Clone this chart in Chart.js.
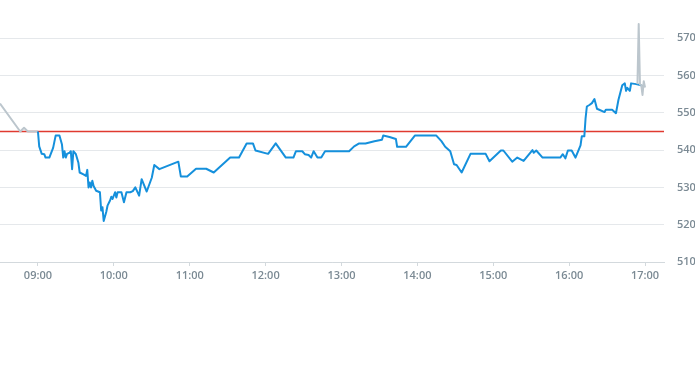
<!DOCTYPE html>
<html lang="en">
<head>
    <meta charset="UTF-8">
    <title>Intraday price</title>
    <script src="https://cdn.jsdelivr.net/npm/chart.js"></script>
    <style>
        body { margin: 0; background: #fff; }
        #wrap { width: 695px; height: 285px; }
    </style>
</head>
<body>
    <div id="wrap"><canvas id="myChart"></canvas></div>
    <script>
        // session prices (time HH:MM, price)
        const sessionTimes = ['09:00','09:01','09:03','09:05','09:06','09:09','09:12','09:14','09:17','09:19','09:20','09:21','09:22','09:23','09:25','09:26','09:27','09:28','09:30','09:32','09:33','09:36','09:38','09:39','09:40','09:41','09:42','09:43','09:44','09:46','09:49','09:50','09:51','09:52','09:54','09:55','09:57','09:58','09:59','10:01','10:02','10:03','10:06','10:08','10:10','10:13','10:15','10:17','10:20','10:22','10:26','10:30','10:32','10:36','10:51','10:53','10:58','11:05','11:13','11:19','11:32','11:39','11:45','11:50','11:52','12:02','12:08','12:16','12:22','12:24','12:29','12:31','12:34','12:36','12:38','12:41','12:44','12:47','13:06','13:10','13:14','13:19','13:26','13:32','13:33','13:38','13:43','13:44','13:51','13:58','14:15','14:19','14:22','14:26','14:29','14:31','14:35','14:42','14:54','14:57','15:06','15:08','15:15','15:19','15:24','15:31','15:32','15:34','15:39','15:53','15:55','15:57','15:59','16:02','16:05','16:09','16:10','16:12','16:13','16:14','16:16','16:18','16:20','16:22','16:28','16:29','16:34','16:37','16:39','16:42','16:44','16:45','16:46','16:48','16:49','16:53','16:57','16:58'];
        const sessionPrices = [545,541,539,538.9,538,538,540.6,543.9,543.9,541.5,538,539.7,538,539,539.3,539.7,534.9,539.7,538.9,536.6,534,533.5,533.1,534.7,530,531.3,530,531.8,530.4,529.1,528.7,523.8,524.7,521,523.4,525.1,526.5,527.5,526.9,528.7,527.3,528.7,528.7,526,528.7,528.7,529,530,527.8,532.2,528.9,532.6,536,534.9,536.9,532.9,532.9,535,535,534,538,538,541.8,541.8,539.9,539,541.8,538,538,539.7,539.7,538.9,538.7,538,539.7,538,538,539.7,539.7,541,541.8,541.8,542.4,542.8,543.9,543.5,543,540.9,540.9,543.9,543.9,542.4,540.9,539.7,536.2,536,534,539,539,537,539.9,539.9,536.9,538,537.1,540,539.3,539.9,538,538,538.9,537.8,539.9,539.9,538,541.3,543.7,543.7,548.6,551.7,552.1,552.6,553.7,551.1,550.2,550.8,550.8,549.9,553.5,557.4,557.9,555.9,556.7,555.9,557.9,557.7,557.4,557];

        // pre-market and after-hours
        const preTimes = ['08:30','08:46','08:49','08:52','09:00'];
        const prePrices = [552.5,545,546,545,545];
        const postTimes = ['16:54','16:55','16:56','16:57','16:58','16:59','17:00'];
        const postPrices = [557.7,573.8,557.6,557.5,554.8,558.5,556.8];

        const refPrice = 545;
        const xTickHours = [9,10,11,12,13,14,15,16,17];
        const yTickValues = [510,520,530,540,550,560,570];

        const toMin = t => { const p = t.split(':'); return +p[0] * 60 + +p[1]; };
        const pts = (times, prices) => times.map((t, i) => ({ x: toMin(t), y: prices[i] }));
        const pad = n => String(n).padStart(2, '0');

        const xMin = toMin('08:30'), xMax = toMin('17:15');
        const tickFont = { family: 'Open Sans', size: 11, weight: '600' };
        const tickColor = '#7b8a94';

        const ctx = document.getElementById('myChart').getContext('2d');
        new Chart(ctx, {
            type: 'line',
            data: {
                datasets: [
                    {
                        data: [{ x: xMin, y: refPrice }, { x: xMax, y: refPrice }],
                        borderColor: '#e03a30',
                        backgroundColor: '#e03a30',
                        borderWidth: 1.5,
                        order: 3
                    },
                    {
                        data: pts(preTimes, prePrices),
                        borderColor: '#bcc6cd',
                        backgroundColor: '#bcc6cd',
                        borderWidth: 2,
                        order: 2
                    },
                    {
                        data: pts(sessionTimes, sessionPrices),
                        borderColor: '#1590dc',
                        backgroundColor: '#1590dc',
                        borderWidth: 2,
                        order: 1
                    },
                    {
                        data: pts(postTimes, postPrices),
                        borderColor: '#bcc6cd',
                        backgroundColor: '#bcc6cd',
                        borderWidth: 2,
                        order: 0
                    }
                ]
            },
            options: {
                responsive: true,
                maintainAspectRatio: false,
                animation: false,
                layout: { padding: { top: 17, left: 0, right: 0, bottom: 0 } },
                elements: {
                    point: { radius: 0 },
                    line: { tension: 0, borderJoinStyle: 'round' }
                },
                plugins: {
                    legend: { display: false },
                    tooltip: { enabled: false }
                },
                scales: {
                    x: {
                        type: 'linear',
                        min: xMin,
                        max: xMax,
                        afterBuildTicks: scale => {
                            scale.ticks = xTickHours.map(h => ({ value: h * 60 }));
                        },
                        afterFit: scale => { scale.height = 23; },
                        grid: {
                            drawOnChartArea: false,
                            drawTicks: true,
                            tickLength: 4,
                            color: '#d3d9dd'
                        },
                        border: { display: true, color: '#d3d9dd' },
                        ticks: {
                            padding: 3,
                            maxRotation: 0,
                            color: tickColor,
                            font: tickFont,
                            callback: v => pad(Math.floor(v / 60)) + ':' + pad(v % 60)
                        }
                    },
                    y: {
                        position: 'right',
                        min: 510,
                        max: 575,
                        afterBuildTicks: scale => {
                            scale.ticks = yTickValues.map(v => ({ value: v }));
                        },
                        afterFit: scale => { scale.width = 31; },
                        grid: {
                            drawTicks: false,
                            color: '#e5e8eb'
                        },
                        border: { display: false },
                        ticks: {
                            padding: 13,
                            color: tickColor,
                            font: tickFont
                        }
                    }
                }
            }
        });
    </script>
</body>
</html>
